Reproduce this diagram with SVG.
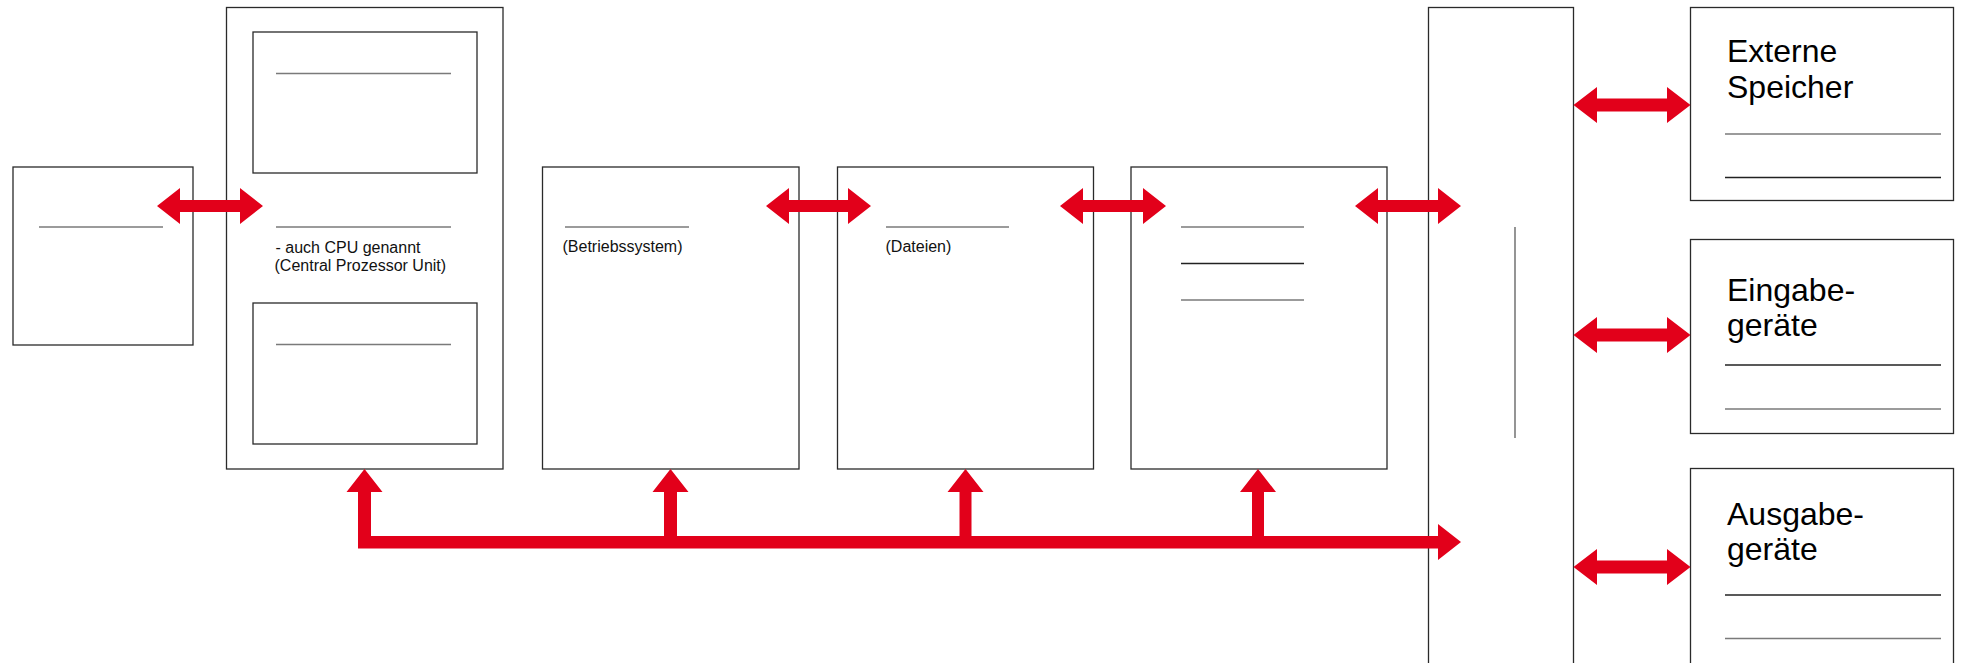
<svg xmlns="http://www.w3.org/2000/svg" width="1966" height="663" viewBox="0 0 1966 663">
<style>
.box{fill:#fff;stroke:#2a2a2a;stroke-width:1.3}
.ln{stroke:#7a7a7a;stroke-width:1.6;fill:none}
.lnd{stroke:#222;stroke-width:1.4;fill:none}
.sm{font-family:"Liberation Sans",Arial,sans-serif;font-size:16px;fill:#111}
.big{font-family:"Liberation Sans",Arial,sans-serif;font-size:32px;fill:#000}
.red{fill:#e2001a}
</style>
<rect width="1966" height="663" fill="#fff"/>
<g id="node-left">
<rect class="box" x="13" y="167" width="180" height="178"/>
<line class="ln" x1="39" y1="227" x2="163" y2="227"/>
</g>
<g id="node-cpu">
<rect class="box" x="226.5" y="7.5" width="276.5" height="461.5"/>
<rect class="box" x="253" y="32" width="224" height="141"/>
<line class="ln" x1="276" y1="73.5" x2="451" y2="73.5"/>
<line class="ln" x1="276" y1="227" x2="451" y2="227"/>
<text class="sm" x="275.5" y="253">- auch CPU genannt</text>
<text class="sm" x="274.5" y="271">(Central Prozessor Unit)</text>
<rect class="box" x="253" y="303" width="224" height="141"/>
<line class="ln" x1="276" y1="344.5" x2="451" y2="344.5"/>
</g>
<g id="node-betriebssystem">
<rect class="box" x="542.5" y="167" width="256.5" height="302"/>
<line class="ln" x1="565" y1="227" x2="689" y2="227"/>
<text class="sm" x="562.5" y="252">(Betriebssystem)</text>
</g>
<g id="node-dateien">
<rect class="box" x="837.5" y="167" width="256" height="302"/>
<line class="ln" x1="886" y1="227" x2="1009" y2="227"/>
<text class="sm" x="885.5" y="252">(Dateien)</text>
</g>
<g id="node-box3">
<rect class="box" x="1131" y="167" width="256" height="302"/>
<line class="ln" x1="1181" y1="227" x2="1304" y2="227"/>
<line class="lnd" x1="1181" y1="263.5" x2="1304" y2="263.5"/>
<line class="ln" x1="1181" y1="300" x2="1304" y2="300"/>
</g>
<g id="node-tall">
<rect class="box" x="1428.5" y="7.5" width="145" height="670"/>
<line class="ln" x1="1515" y1="227" x2="1515" y2="438"/>
</g>
<g id="node-externe">
<rect class="box" x="1690.5" y="7.5" width="263" height="193"/>
<text class="big" x="1727"><tspan x="1727" y="61.5">Externe</tspan><tspan x="1727" y="97.5">Speicher</tspan></text>
<line class="ln" x1="1725" y1="134" x2="1941" y2="134"/>
<line class="lnd" x1="1725" y1="177.5" x2="1941" y2="177.5"/>
</g>
<g id="node-eingabe">
<rect class="box" x="1690.5" y="239.5" width="263" height="194"/>
<text class="big" x="1727"><tspan x="1727" y="301">Eingabe-</tspan><tspan x="1727" y="336">geräte</tspan></text>
<line class="lnd" x1="1725" y1="365" x2="1941" y2="365"/>
<line class="ln" x1="1725" y1="409" x2="1941" y2="409"/>
</g>
<g id="node-ausgabe">
<rect class="box" x="1690.5" y="468.5" width="263" height="210"/>
<text class="big" x="1727"><tspan x="1727" y="525">Ausgabe-</tspan><tspan x="1727" y="560">geräte</tspan></text>
<line class="lnd" x1="1725" y1="595" x2="1941" y2="595"/>
<line class="ln" x1="1725" y1="638.5" x2="1941" y2="638.5"/>
</g>
<g id="connectors" class="red">
<polygon points="157,206 180,188 180,200 240,200 240,188 263,206 240,224 240,212 180,212 180,224"/>
<polygon points="766,206 789,188 789,200 848,200 848,188 871,206 848,224 848,212 789,212 789,224"/>
<polygon points="1060,206 1083,188 1083,200 1143,200 1143,188 1166,206 1143,224 1143,212 1083,212 1083,224"/>
<polygon points="1355,206 1378,188 1378,200 1438,200 1438,188 1461,206 1438,224 1438,212 1378,212 1378,224"/>
<polygon points="1573.5,105 1597,87 1597,98.5 1667,98.5 1667,87 1690.5,105 1667,123 1667,111.5 1597,111.5 1597,123"/>
<polygon points="1573.5,335 1597,317 1597,328.5 1667,328.5 1667,317 1690.5,335 1667,353 1667,341.5 1597,341.5 1597,353"/>
<polygon points="1573.5,567 1597,549 1597,560.5 1667,560.5 1667,549 1690.5,567 1667,585 1667,573.5 1597,573.5 1597,585"/>
<polygon points="358,492 346.5,492 364.5,469 382.5,492 371,492 371,536 664,536 664,492 652.5,492 670.5,469 688.5,492 677,492 677,536 959.5,536 959.5,492 947.5,492 965.5,469 983.5,492 971.5,492 971.5,536 1252,536 1252,492 1240,492 1258,469 1276,492 1264,492 1264,536 1438,536 1438,524 1461,542 1438,560 1438,548.5 358,548.5"/>
</g>
</svg>
